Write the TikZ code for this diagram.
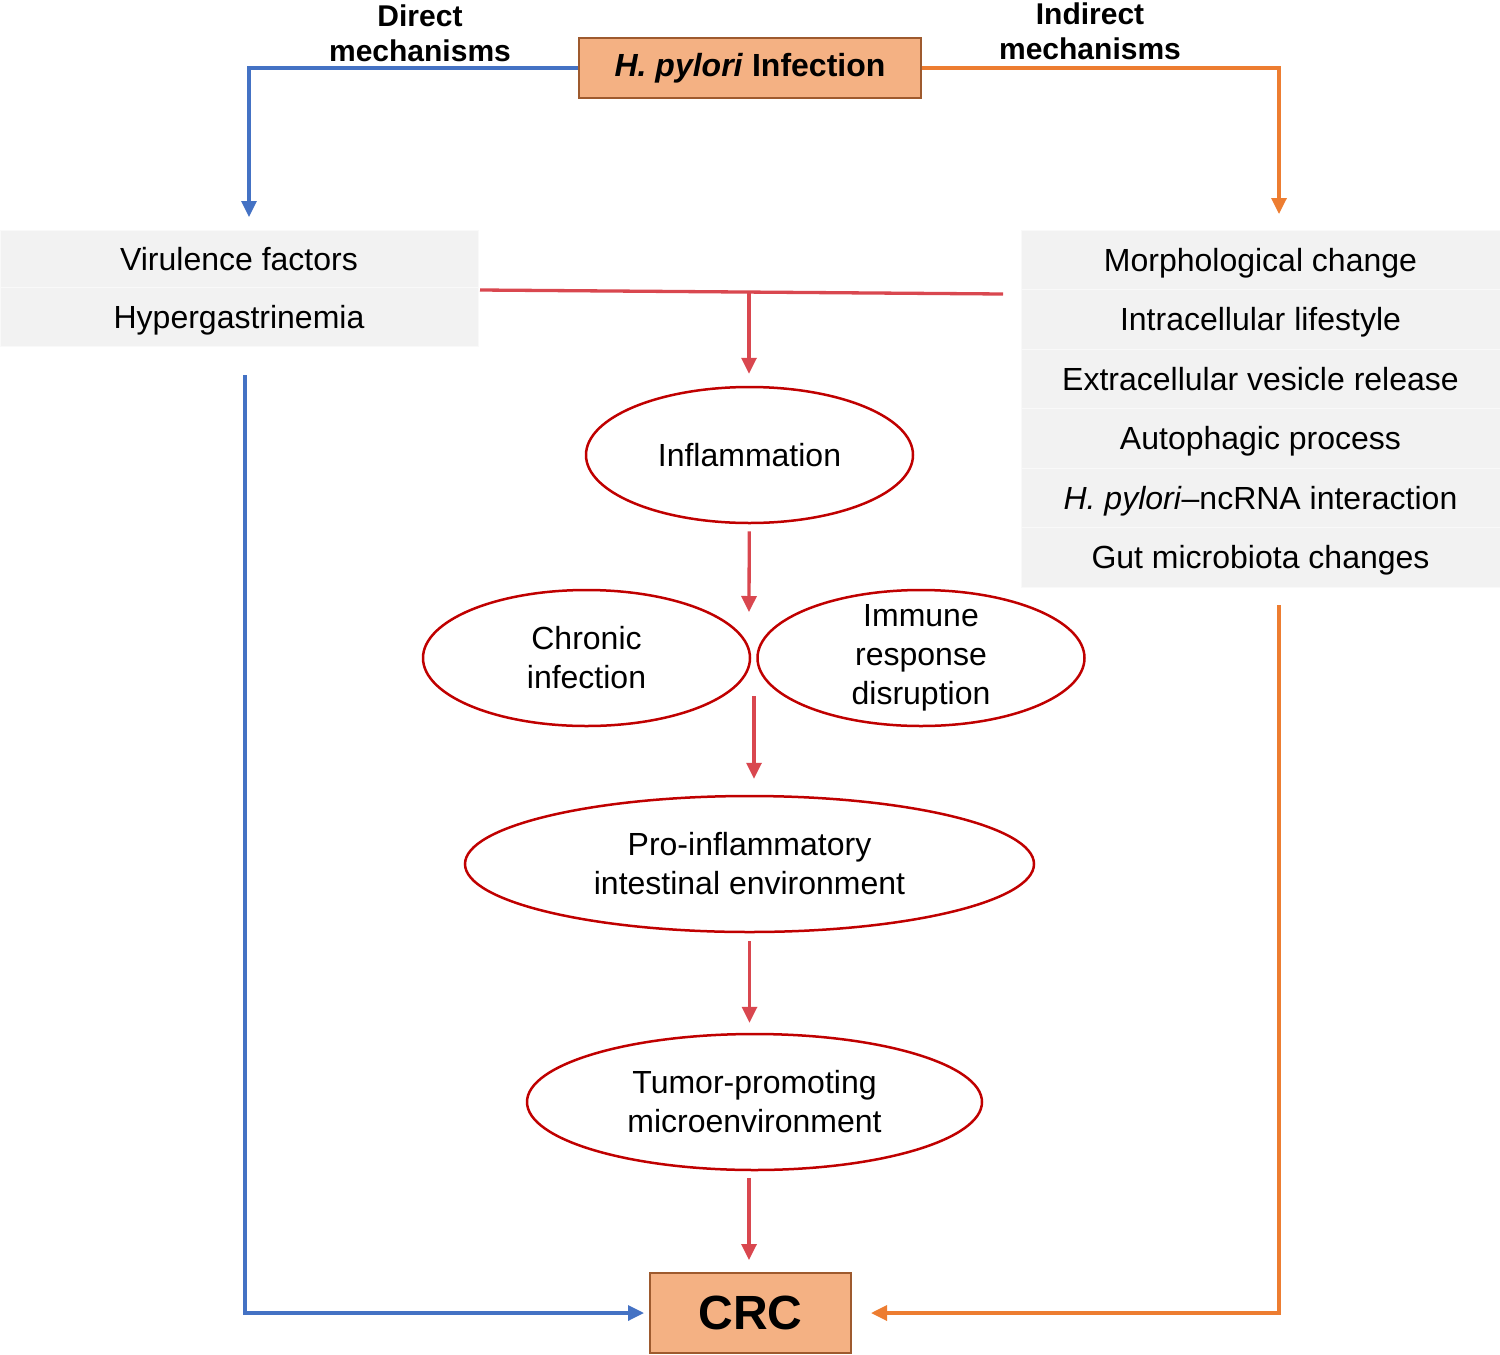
\documentclass[tikz,border=0pt]{standalone}
\usepackage{fontspec}
\setmainfont{Liberation Sans}
\usetikzlibrary{arrows.meta,shapes.geometric}
\definecolor{boxfill}{HTML}{F4B183}
\definecolor{boxdraw}{HTML}{9E5A2E}
\definecolor{greyfill}{HTML}{F2F2F2}
\definecolor{blueline}{HTML}{4472C4}
\definecolor{orangeline}{HTML}{ED7D31}
\definecolor{redline}{HTML}{D9474F}
\definecolor{ellred}{HTML}{C00000}
\tikzset{
  tip/.style={-{Triangle[length=16pt,width=15pt]}},
  bluecon/.style={draw=blueline,line width=3.3pt},
  orangecon/.style={draw=orangeline,line width=3.3pt},
  redcon/.style={draw=redline,line width=3.3pt},
  orbox/.style={rectangle,fill=boxfill,draw=boxdraw,line width=2pt,inner sep=0pt},
  greyrow/.style={rectangle,fill=greyfill,draw=white!55!greyfill,line width=1pt,inner sep=0pt,
    font=\fontsize{32}{39}\selectfont,text height=30pt,text depth=7pt},
  ell/.style={ellipse,draw=ellred,line width=2.5pt,fill=white,inner xsep=0pt,inner ysep=-8pt,align=center,
    minimum height=136pt,font=\fontsize{32}{39}\selectfont},
  toplabel/.style={align=center,font=\bfseries\fontsize{30}{35}\selectfont,inner sep=0pt}
}
\begin{document}
\begin{tikzpicture}[x=1pt,y=-1pt]
\useasboundingbox (0,0) rectangle (1500,1355);
% top
\node[orbox,minimum width=342pt,minimum height=60pt,font=\bfseries\fontsize{32}{38}\selectfont] (hp) at (750,68) {\textit{H. pylori} Infection};
\node[toplabel] (dlab) at (420,33) {Direct\\mechanisms};
\node[toplabel] (ilab) at (1090,31) {Indirect\\mechanisms};
% left grey box
\node[greyrow,minimum width=478pt,minimum height=57pt] (lv) at (239,258.5) {Virulence factors};
\node[greyrow,minimum width=478pt,minimum height=59pt] (lh) at (239,316.5) {Hypergastrinemia};
% right grey box
\node[greyrow,minimum width=479pt,minimum height=59.5pt] (r1) at (1260.5,259.75) {Morphological change};
\node[greyrow,minimum width=479pt,minimum height=59.5pt] (r2) at (1260.5,319.25) {Intracellular lifestyle};
\node[greyrow,minimum width=479pt,minimum height=59.5pt] (r3) at (1260.5,378.75) {Extracellular vesicle release};
\node[greyrow,minimum width=479pt,minimum height=59.5pt] (r4) at (1260.5,438.25) {Autophagic process};
\node[greyrow,minimum width=479pt,minimum height=59.5pt] (r5) at (1260.5,497.75) {\textit{H. pylori}–ncRNA interaction};
\node[greyrow,minimum width=479pt,minimum height=59.5pt] (r6) at (1260.5,557.25) {Gut microbiota changes};
% ellipses
\node[ell,minimum width=327pt] (infl) at (749.5,455) {Inflammation};
\node[ell,minimum width=327pt] (chron) at (586.5,658) {Chronic\\infection};
\node[ell,minimum width=327pt] (immune) at (921,658) {Immune\\response\\disruption};
\node[ell,minimum width=569pt] (pro) at (749.5,864) {Pro-inflammatory\\intestinal environment};
\node[ell,minimum width=455pt] (tumor) at (754.5,1102) {Tumor-promoting\\microenvironment};
% CRC
\node[orbox,minimum width=201pt,minimum height=80pt,font=\bfseries\fontsize{48}{56}\selectfont] (crc) at (750.5,1313) {CRC};
% coordinates
\coordinate (dtop) at (249,217);
\coordinate (dbot) at (245,375);
\coordinate (itop) at (1279,214);
\coordinate (ibot) at (1279,605);
\coordinate (rl) at (480,290);
\coordinate (rr) at (1003,294);
\coordinate (rb) at (749,291);
\coordinate (mid1) at (749,612);
\coordinate (mid2) at (754,696);
% connectors
\draw[bluecon,tip] (hp.west) -| (dtop);
\draw[orangecon,tip] (hp.east) -| (itop);
\draw[bluecon,tip,shorten >=5pt] (dbot) |- (crc.west);
\draw[orangecon,tip,shorten >=19pt] (ibot) |- (crc.east);
\draw[redcon] (rl) -- (rr);
\draw[redcon,tip,shorten >=12pt] (rb) -- (rb |- infl.north);
\draw[redcon,tip,shorten <=7pt] (infl) -- (mid1);
\draw[redcon,tip,shorten >=16pt] (mid2) -- (mid2 |- pro.north);
\draw[redcon,tip,shorten <=8pt,shorten >=10pt] (pro.south) -- (pro.south |- tumor.north);
\draw[redcon,tip,shorten <=7pt,shorten >=12pt] (rb |- tumor.south) -- (rb |- crc.north);
\end{tikzpicture}
\end{document}
